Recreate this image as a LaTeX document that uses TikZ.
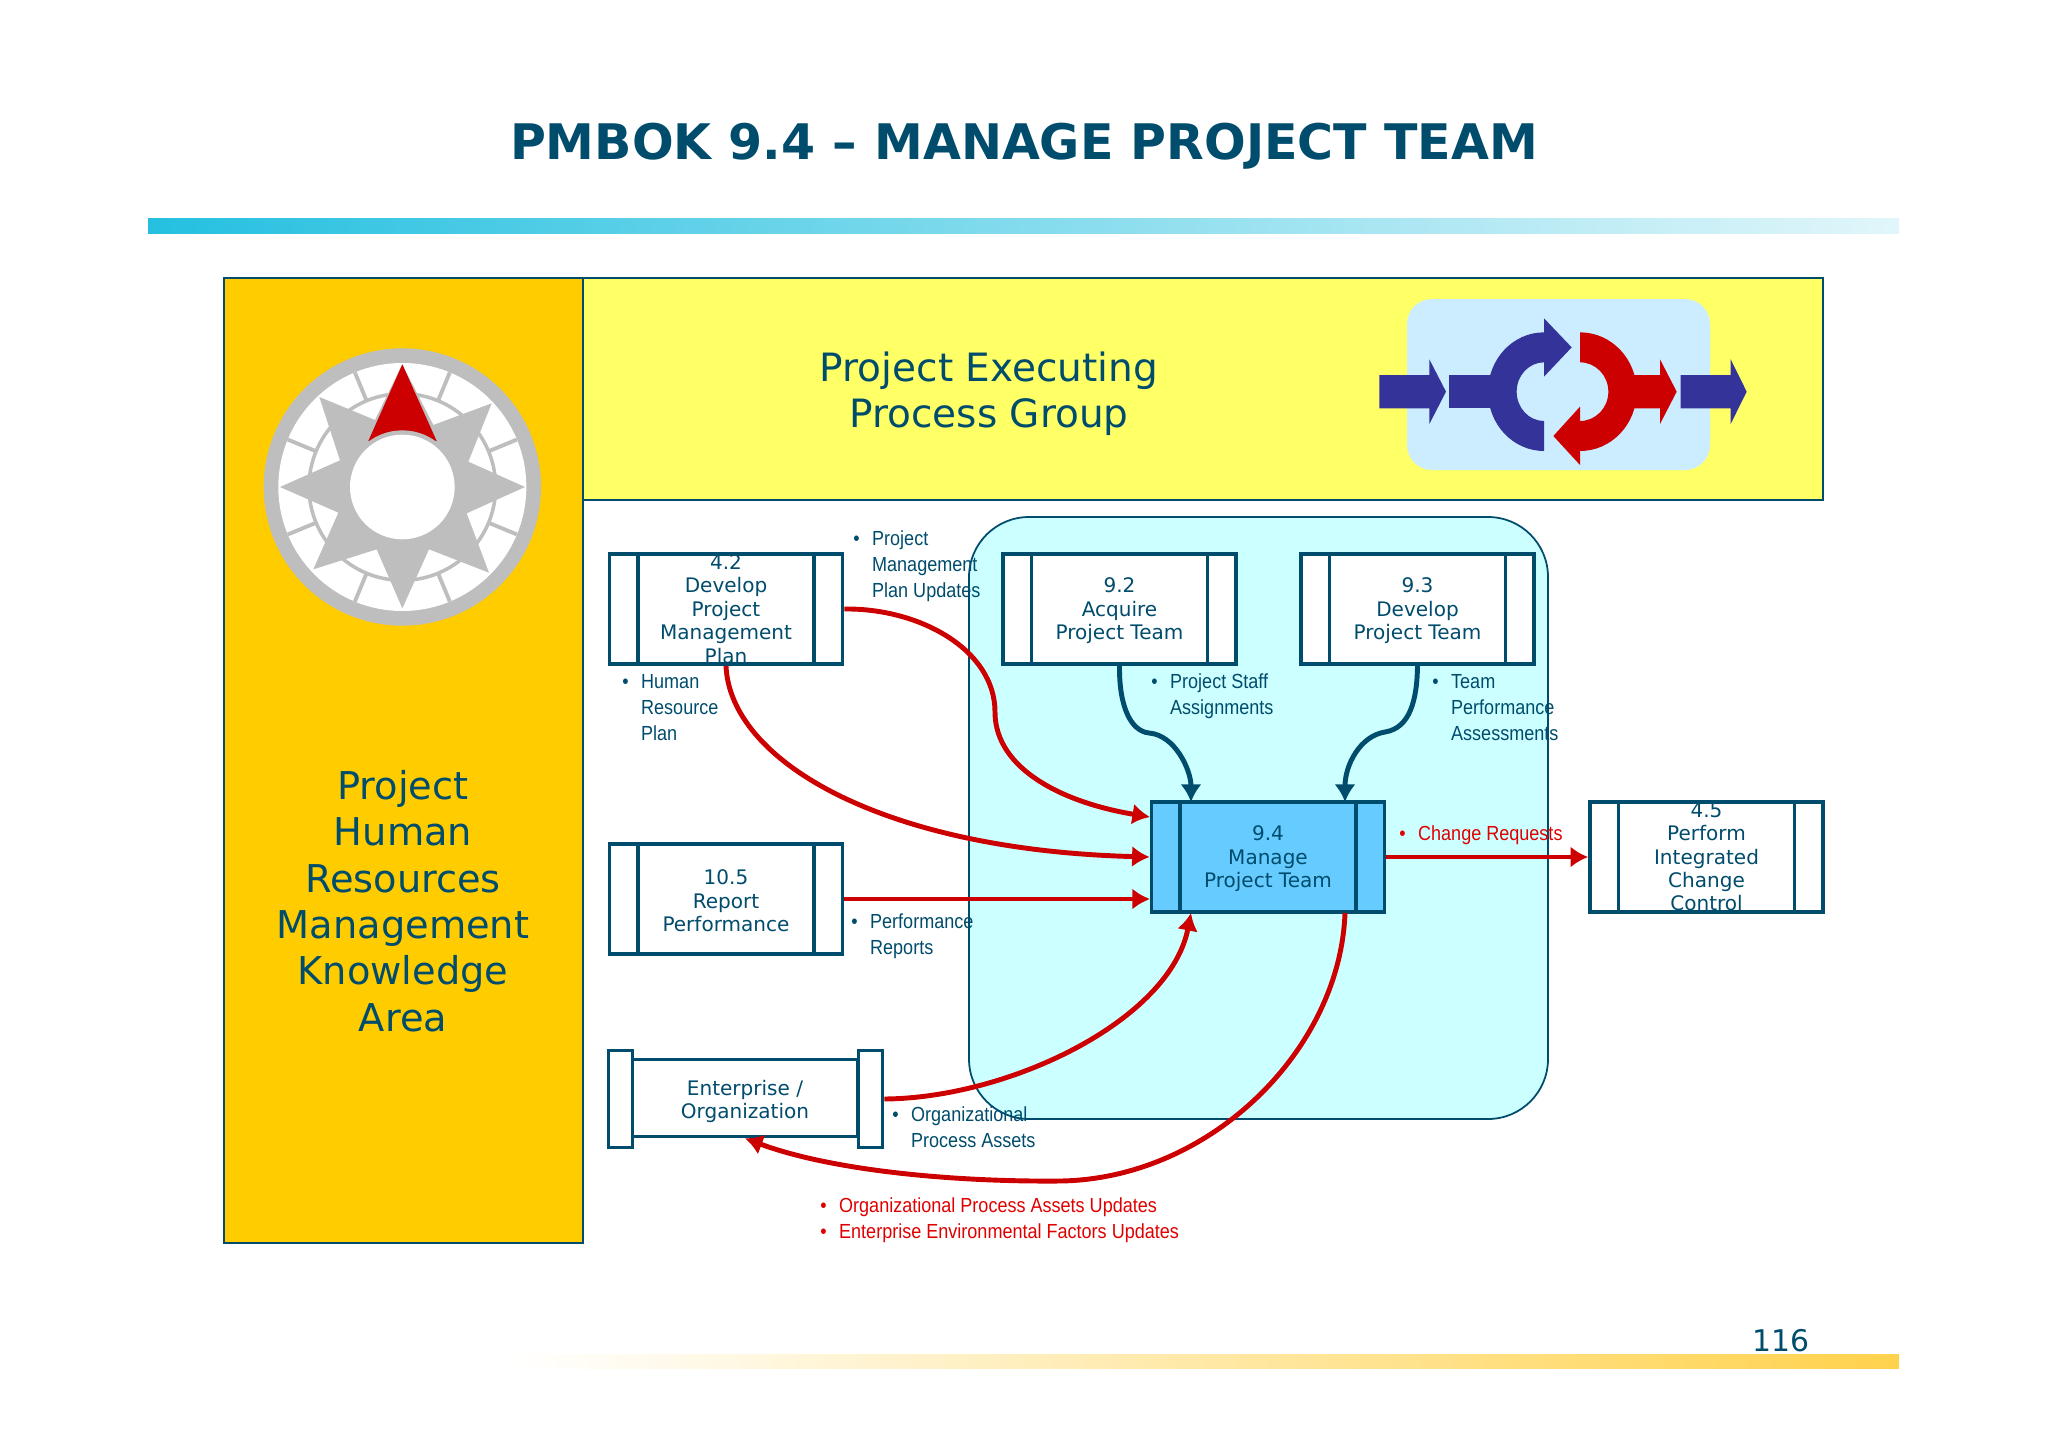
\documentclass[tikz,border=0pt]{standalone}
\usepackage{fontspec}
\setmainfont{DejaVu Sans}
\newfontfamily\narrowfont[FakeStretch=0.885]{Liberation Sans}
\usetikzlibrary{arrows.meta}
\definecolor{teal}{HTML}{004C6C}
\definecolor{flowred}{HTML}{CC0000}
\definecolor{notered}{HTML}{E00000}
\definecolor{iconblue}{HTML}{333399}
\definecolor{compassgrey}{HTML}{BEBEBE}
\definecolor{areaorange}{HTML}{FFCC00}
\definecolor{groupyellow}{HTML}{FFFF66}
\definecolor{lanecyan}{HTML}{CCFFFF}
\definecolor{iconback}{HTML}{CCECFF}
\definecolor{managefill}{HTML}{66CCFF}
\definecolor{barcyan}{HTML}{25C0E0}
\definecolor{barcyanmid}{HTML}{6ED7EB}
\definecolor{barcyanend}{HTML}{E1F6FA}
\definecolor{bargold}{HTML}{FFD24D}
\definecolor{bargoldmid}{HTML}{FFECAA}
\newcommand{\bul}{\makebox[10.7pt][l]{\textbullet}}
\newcommand{\ind}{\hspace*{10.7pt}}
\begin{document}
\begin{tikzpicture}[x=0.02cm,y=-0.02cm,
    procbox/.style={draw=teal,line width=2.1pt,fill=white,minimum width=4.66cm,minimum height=2.2cm,inner sep=0pt,
        path picture={\draw[teal,line width=2.1pt]
            ([xshift=0.57cm]path picture bounding box.north west) -- ([xshift=0.57cm]path picture bounding box.south west)
            ([xshift=-0.57cm]path picture bounding box.north east) -- ([xshift=-0.57cm]path picture bounding box.south east);}},
    boxtext/.style={text=teal,align=center,font=\fontsize{11.4}{13.3}\selectfont,inner sep=0pt,yshift=-1.1pt},
    bigtext/.style={text=teal,align=center,inner sep=0pt},
    notetext/.style={text=teal,align=left,anchor=west,inner sep=0pt,font=\narrowfont\fontsize{11.6}{14.8}\selectfont},
    flow/.style={flowred,line width=2.8pt,-{Latex[length=10pt,width=12pt]}},
    staffflow/.style={teal,line width=2.8pt,-{Latex[length=10pt,width=12pt]}}]
    \useasboundingbox (0,0) rectangle (2048,1447);
    % title and bars
    \node[text=teal,font=\bfseries\fontsize{27.9}{30}\selectfont,inner sep=0pt] (title) at (1024,146) {PMBOK 9.4 – MANAGE PROJECT TEAM};
    \shade[left color=barcyan,middle color=barcyanmid,right color=barcyanend] (148,218) rectangle (1899,233);
    \shade[left color=white,middle color=bargoldmid,right color=bargold] (510,1354) rectangle (1899,1368);
    \node[text=teal,font=\fontsize{17}{20}\selectfont,inner sep=0pt] (pagenum) at (1781,1341) {116};
    % panels
    \draw[teal,fill=areaorange,line width=0.8pt] (224,278) rectangle (583,1243);
    \draw[teal,fill=groupyellow,line width=0.8pt] (583,278) rectangle (1823,500);
    \node[bigtext,font=\fontsize{21.8}{26.4}\selectfont] (knowledge) at (403,901) {Project\\Human\\Resources\\Management\\Knowledge\\Area};
    \node[bigtext,font=\fontsize{22.2}{26.2}\selectfont] (executing) at (989,394) {Project Executing\\Process Group};
    % compass
    \begin{scope}[shift={(220,271)},scale=1/3]
        \fill[compassgrey] (547,648) circle (416);
        \fill[white] (547,648) circle (372);
        \draw[compassgrey,line width=2pt] (547,648) circle (280);
        \foreach \a in {22.5,67.5,...,337.5}
            \draw[compassgrey,line width=2.2pt] ([shift={(547,648)}]\a:280) -- ([shift={(547,648)}]\a:372);
        \fill[compassgrey] (547,280) -- (640,462) -- (815,397) -- (745,572) -- (915,648) -- (740,727) -- (807,905) -- (627,835)
            -- (547,1012) -- (470,835) -- (280,895) -- (355,725) -- (180,648) -- (360,568) -- (298,378) -- (465,447) -- cycle;
        \fill[flowred] (547,280) -- (650,510) -- (445,510) -- cycle;
        \fill[compassgrey] (547,648) circle (170);
        \fill[white] (547,648) circle (157);
    \end{scope}
    % process icon
    \fill[iconback,rounded corners=0.5cm] (1407,299) rectangle (1710,470);
    \begin{scope}[shift={(1360,280)},scale=1/3]
        \fill[iconblue] (58,285) -- (208,285) -- (208,238) -- (258,335) -- (208,432) -- (208,385) -- (58,385) -- cycle;
        \fill[iconblue] (962,285) -- (1112,285) -- (1112,238) -- (1160,335) -- (1112,432) -- (1112,385) -- (962,385) -- cycle;
        \fill[iconblue] (268,285) rectangle (420,385);
        \fill[iconblue] (552,513) arc[start angle=90,end angle=270,x radius=168,y radius=178] -- (552,115) -- (635,202) -- (552,290) -- (552,247)
            arc[start angle=270,end angle=90,x radius=82,y radius=88] -- cycle;
        \fill[flowred] (800,285) -- (900,285) -- (900,238) -- (950,335) -- (900,432) -- (900,385) -- (800,385) -- cycle;
        \fill[flowred] (660,157) arc[start angle=270,end angle=450,x radius=170,y radius=178] -- (660,555) -- (580,468) -- (660,380) -- (660,423)
            arc[start angle=90,end angle=-90,x radius=85,y radius=88] -- cycle;
    \end{scope}
    % swimlane
    \draw[teal,fill=lanecyan,line width=1pt,rounded corners=1.2cm] (969,517) rectangle (1548,1119);
    % process boxes
    \node[procbox,label={[boxtext,yshift=1.1pt]center:4.2\\Develop\\Project\\Management\\Plan}] (pmplan) at (726,609) {};
    \node[procbox,label={[boxtext]center:10.5\\Report\\Performance}] (report) at (726,899) {};
    \node[procbox,label={[boxtext]center:9.2\\Acquire\\Project Team}] (acquire) at (1119.5,609) {};
    \node[procbox,label={[boxtext]center:9.3\\Develop\\Project Team}] (develop) at (1417.5,609) {};
    \node[procbox,fill=managefill,label={[boxtext]center:9.4\\Manage\\Project Team}] (manage) at (1268,857) {};
    \node[procbox,label={[boxtext,yshift=1.1pt]center:4.5\\Perform\\Integrated\\Change\\Control}] (change) at (1706.5,857) {};
    % enterprise box
    \node[draw=teal,line width=2.1pt,fill=white,minimum width=4.52cm,minimum height=1.54cm,inner sep=0pt,label={[boxtext,yshift=-1pt]center:Enterprise /\\Organization}] (enterprise) at (745,1098) {};
    \node[draw=teal,line width=2.1pt,fill=white,minimum width=0.48cm,minimum height=1.94cm,inner sep=0pt] (entleft) at (620.5,1099) {};
    \node[draw=teal,line width=2.1pt,fill=white,minimum width=0.48cm,minimum height=1.94cm,inner sep=0pt] (entright) at (870.5,1099) {};
    % free ends on box 9.4
    \coordinate (mngupd) at (1150,817);
    \coordinate (mngperf) at (1150,899);
    \coordinate (mngopa) at (1191,913);
    \coordinate (mngstaff) at (1191,802);
    \coordinate (mngteam) at (1345,802);
    \coordinate (mngout) at (1345,913);
    % connectors
    \draw[flow] (pmplan.east) .. controls (920,608) and (995,650) .. (995,712) .. controls (995,770) and (1065,803) .. (mngupd);
    \draw[flow] (pmplan.south) .. controls (730,760) and (880,850) .. (manage.west);
    \draw[flow] (report.east) -- (mngperf);
    \draw[flow] (entright.east) .. controls (1010,1098) and (1170,1020) .. (mngopa);
    \draw[flow] (manage.east) -- (change.west);
    \draw[flow] (mngout) .. controls (1340,1050) and (1210,1179) .. (1060,1181) .. controls (950,1182) and (830,1170) .. (enterprise.south);
    \draw[staffflow] (acquire.south) .. controls (1119,705) and (1130,731) .. (1149,733) .. controls (1175,735) and (1191,770) .. (mngstaff);
    \draw[staffflow] (develop.south) .. controls (1417,700) and (1410,728) .. (1385,732) .. controls (1360,736) and (1345,765) .. (mngteam);
    % notes
    \node[notetext] (notepmu) at (853,566.5) {\bul Project\\\ind Management\\\ind Plan Updates};
    \node[notetext] (notehr) at (622,708) {\bul Human\\\ind Resource\\\ind Plan};
    \node[notetext] (notestaff) at (1151,696) {\bul Project Staff\\\ind Assignments};
    \node[notetext] (noteteam) at (1432,708) {\bul Team\\\ind Performance\\\ind Assessments};
    \node[notetext] (noteperf) at (851,936) {\bul Performance\\\ind Reports};
    \node[notetext] (noteopa) at (892,1127.5) {\bul Organizational\\\ind Process Assets};
    \node[notetext,text=notered] (notecr) at (1399,835.5) {\bul Change Requests};
    \node[notetext,text=notered] (noteupd) at (820,1220) {\bul Organizational Process Assets Updates\\\bul Enterprise Environmental Factors Updates};
\end{tikzpicture}
\end{document}
